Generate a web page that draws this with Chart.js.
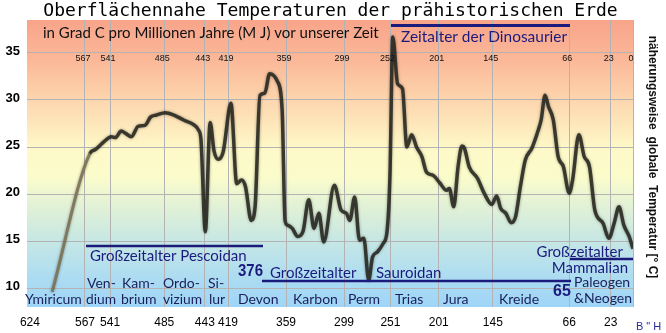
<!DOCTYPE html>
<html>
<head>
<meta charset="utf-8">
<script src="https://cdn.jsdelivr.net/npm/chart.js@4.4.1/dist/chart.umd.min.js"></script>
<style>
  html, body { margin: 0; padding: 0; background: #fff; }
</style>
</head>
<body>
<canvas id="tempChart" width="666" height="333"></canvas>
<script>
// Million years before present
const ages = [601, 562, 556, 547, 540, 535.5, 529.5, 525, 519, 512, 505, 499, 493, 484, 475, 464.5, 455, 449.5, 447,
  442.5, 437.5, 433.5, 429, 424, 416, 410, 405, 401, 395, 391, 386, 381, 376, 368, 363, 360, 357.5, 352.5, 347,
  341.5, 335.5, 330, 325, 320, 309, 302, 296.5, 293, 288, 283, 278.5, 273.5, 269.5, 264.5, 258.5, 254.5, 251.5,
  248.5, 243.5, 238.5, 234, 229, 224, 218.5, 213.5, 207, 200, 193, 190, 185.5, 181, 177, 174.5, 169.5, 161, 154,
  146, 141, 137, 131.5, 126, 121.5, 116.5, 111.5, 104.5, 98, 95, 91, 87.5, 82.5, 77.5, 72, 66, 62.5, 56, 50.5,
  45, 39.5, 31, 25, 19.5, 14.5, 9.5, 4, 0];

// Approximate global surface temperature, degrees C
const temps = [9.6, 24.3, 24.75, 25.6, 26.1, 26.0, 26.7, 26.45, 26.1, 27.2, 27.3, 28.2, 28.4, 28.65, 28.4, 27.85, 27.4, 26.8, 25.8,
  16.0, 27.6, 24.6, 23.7, 24.5, 29.65, 21.1, 21.5, 20.8, 17.2, 18.65, 30.5, 30.7, 32.8, 32.0, 28.9, 17.2, 16.7, 16.35, 15.5,
  16.0, 19.4, 16.35, 17.95, 14.9, 20.95, 18.3, 17.95, 17.2, 19.7, 15.1, 15.3, 10.85, 13.3, 13.85, 14.75, 16.0, 21.85,
  36.7, 31.7, 31.2, 25.0, 26.3, 25.0, 24.0, 22.3, 22.0, 21.2, 20.4, 20.6, 18.65, 22.9, 25.1, 24.9, 22.9, 21.7, 20.1,
  18.9, 19.8, 18.5, 17.95, 16.95, 17.6, 20.8, 23.6, 24.9, 26.8, 27.9, 30.5, 29.3, 27.9, 24.0, 22.9, 20.1, 21.5, 26.3, 24.0,
  22.9, 18.3, 16.9, 15.3, 16.9, 18.65, 16.7, 15.5, 14.2];

const yTicks = [10, 15, 20, 25, 30, 35];
const bottomTicks = [624, 567, 541, 485, 443, 419, 359, 299, 251, 201, 145, 66, 23, 0];
const topTickLabels = [567, 541, 485, 443, 419, 359, 299, 252, 201, 145, 66, 23, 0];

const navy = '#1b1b7e';
const eraColor = '#1a1f5a';
const sans = '"Liberation Sans", Arial, sans-serif';
const lato = 'Lato, "Open Sans", sans-serif';

// gradient background behind the plot
const backdrop = {
  id: 'backdrop',
  beforeDraw(chart) {
    const { ctx, chartArea: a } = chart;
    const g = ctx.createLinearGradient(0, a.top, 0, a.bottom);
    g.addColorStop(0, '#f8a48a');
    g.addColorStop(0.14, '#fbb898');
    g.addColorStop(0.28, '#fdd6ae');
    g.addColorStop(0.45, '#fef9c8');
    g.addColorStop(0.55, '#fbfccb');
    g.addColorStop(0.63, '#e6f3d4');
    g.addColorStop(0.77, '#c6e7e4');
    g.addColorStop(0.9, '#acdcf2');
    g.addColorStop(1, '#9ed5f7');
    ctx.save();
    ctx.fillStyle = g;
    ctx.fillRect(a.left, a.top, a.right - a.left, a.bottom - a.top);
    ctx.restore();
  }
};

// soft shadow round the curve
const blurLine = {
  id: 'blurLine',
  beforeDatasetsDraw(chart) {
    chart.ctx.save();
    chart.ctx.shadowColor = 'rgba(0,0,0,0.45)';
    chart.ctx.shadowBlur = 3;
  },
  afterDatasetsDraw(chart) {
    chart.ctx.restore();
  }
};

function put(ctx, str, x, y, font, color, align, maxW) {
  ctx.font = font;
  ctx.fillStyle = color;
  ctx.textAlign = align || 'left';
  ctx.textBaseline = 'middle';
  if (maxW) ctx.fillText(str, x, y, maxW); else ctx.fillText(str, x, y);
}

function rule(ctx, x1, x2, y, w) {
  ctx.strokeStyle = navy;
  ctx.lineWidth = w || 2.5;
  ctx.beginPath();
  ctx.moveTo(x1, y);
  ctx.lineTo(x2, y);
  ctx.stroke();
}

const notes = {
  id: 'notes',
  afterDraw(chart) {
    const ctx = chart.ctx;
    const xs = chart.scales.x;
    ctx.save();

    // title
    ctx.font = '18px "DejaVu Sans Mono", monospace';
    ctx.fillStyle = '#000';
    ctx.textAlign = 'center';
    ctx.textBaseline = 'alphabetic';
    ctx.fillText('Oberflächennahe Temperaturen der prähistorischen Erde', 330.5, 15.5);

    put(ctx, 'in Grad C pro Millionen Jahre (M J) vor unserer Zeit', 43, 33, '15px ' + lato, '#111', 'left', 345);

    rule(ctx, 391, 570, 25.5, 3);
    put(ctx, 'Zeitalter der Dinosaurier', 401, 37, '16px ' + lato, navy, 'left', 166);

    // small labels along the top
    topTickLabels.forEach(v => {
      put(ctx, String(v), xs.getPixelForValue(v) - 2, 59, '9px "Liberation Sans Narrow", ' + sans, '#111', 'center');
    });

    // super eras
    rule(ctx, 86, 263, 246);
    put(ctx, 'Großzeitalter Pescoidan', 90, 256, '15px ' + lato, navy, 'left', 162);
    put(ctx, '376', 238, 272, 'bold 16px ' + sans, navy, 'left', 25);
    put(ctx, 'Großzeitalter', 270, 273, '15px ' + lato, navy, 'left', 91);
    put(ctx, 'Sauroidan', 376, 273, '15px ' + lato, navy, 'left', 69);
    rule(ctx, 262, 571, 281);
    put(ctx, '65', 553, 292, 'bold 16px ' + sans, navy, 'left', 18);
    put(ctx, 'Großzeitalter', 623, 252, '15px ' + lato, navy, 'right', 88);
    rule(ctx, 570, 633, 259);
    put(ctx, 'Mammalian', 628, 268, '15px ' + lato, navy, 'right', 78);

    // periods
    const ef = '14px ' + lato;
    put(ctx, 'Ymiricum', 25, 299, ef, eraColor, 'left', 57);
    put(ctx, 'Ven-', 87, 283, ef, eraColor);
    put(ctx, 'dium', 86, 299, ef, eraColor, 'left', 30);
    put(ctx, 'Kam-', 122, 283, ef, eraColor);
    put(ctx, 'brium', 121, 299, ef, eraColor, 'left', 36);
    put(ctx, 'Ordo-', 163, 283, ef, eraColor);
    put(ctx, 'vizium', 163, 299, ef, eraColor, 'left', 39);
    put(ctx, 'Si-', 208, 283, ef, eraColor);
    put(ctx, 'lur', 209, 299, ef, eraColor);
    put(ctx, 'Devon', 238, 299, ef, eraColor);
    put(ctx, 'Karbon', 293, 299, ef, eraColor);
    put(ctx, 'Perm', 348, 299, ef, eraColor);
    put(ctx, 'Trias', 395, 299, ef, eraColor);
    put(ctx, 'Jura', 443, 299, ef, eraColor);
    put(ctx, 'Kreide', 499, 299, ef, eraColor);
    put(ctx, 'Paleogen', 574, 282, ef, eraColor, 'left', 58);
    put(ctx, '&Neogen', 574, 298, ef, eraColor, 'left', 58);

    // axis title on the right, read top to bottom
    ctx.save();
    ctx.translate(652, 157);
    ctx.rotate(Math.PI / 2);
    put(ctx, 'näherungsweise  globale  Temperatur [° C]', 0, 0, 'bold 12px ' + sans, '#111', 'center', 264);
    ctx.restore();

    ctx.letterSpacing = '3px';
    put(ctx, 'B"H', 636, 327, '11px ' + sans, '#2a2aa0', 'left');
    ctx.restore();
  }
};

new Chart(document.getElementById('tempChart'), {
  type: 'line',
  data: {
    datasets: [{
      data: ages.map((a, i) => ({ x: a, y: temps[i] })),
      borderColor: 'rgba(40,40,32,0.88)',
      borderWidth: 3.5,
      pointRadius: 0,
      fill: false,
      cubicInterpolationMode: 'monotone',
      segment: {
        borderColor: c => c.p0DataIndex === 0 ? 'rgba(125,115,85,0.9)' : undefined,
        borderWidth: c => c.p0DataIndex === 0 ? 3 : undefined
      }
    }]
  },
  options: {
    responsive: false,
    animation: false,
    layout: { padding: { top: 20, right: 33, bottom: 0, left: 0 } },
    plugins: { legend: { display: false }, tooltip: { enabled: false }, title: { display: false } },
    scales: {
      x: {
        type: 'linear',
        reverse: true,
        min: 0,
        max: 627,
        afterBuildTicks: s => { s.ticks = bottomTicks.map(v => ({ value: v })); },
        afterFit: s => { s.height = 26; },
        grid: {
          color: c => (c.tick && c.tick.value === 624) ? 'rgba(0,0,0,0)' : '#b3b3b3',
          drawTicks: false
        },
        border: { display: false },
        ticks: {
          autoSkip: false,
          maxRotation: 0,
          padding: 8,
          color: '#000',
          font: { family: sans, size: 12 },
          callback: v => v === 0 ? '' : String(v)
        }
      },
      y: {
        min: 8,
        max: 38.5,
        afterBuildTicks: s => { s.ticks = yTicks.map(v => ({ value: v })); },
        afterFit: s => { s.width = 27; },
        grid: { color: '#b3b3b3', drawTicks: false },
        border: { display: false },
        ticks: {
          padding: 7,
          labelOffset: -2,
          color: '#000',
          font: { family: sans, size: 13, weight: 'bold' }
        }
      }
    }
  },
  plugins: [backdrop, blurLine, notes]
});
</script>
</body>
</html>
